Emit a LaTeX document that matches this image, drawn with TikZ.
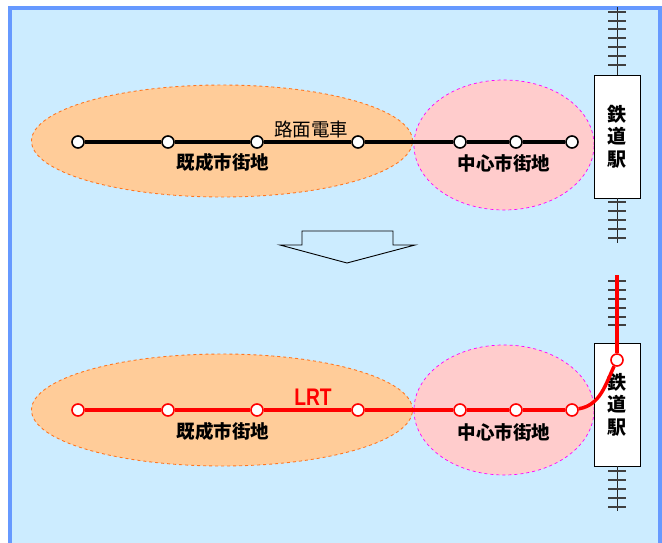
\documentclass[tikz,border=0pt]{standalone}
\usepackage{fontspec}
\setmainfont{Noto Sans CJK JP}
\newfontfamily\latinfont{Liberation Sans}
\usetikzlibrary{shapes.geometric}
\definecolor{skyfill}{HTML}{CCECFF}
\definecolor{skyline}{HTML}{6699FF}
\definecolor{oldfill}{HTML}{FFCC99}
\definecolor{oldline}{HTML}{FF7722}
\definecolor{cbdfill}{HTML}{FFCCCC}
\definecolor{cbdline}{HTML}{FF00FF}
\definecolor{lrtred}{HTML}{FF0000}
\tikzset{
  oldtown/.style={ellipse,draw=oldline,fill=oldfill,dashed,line width=0.9pt,
    minimum width=381pt,minimum height=112pt,inner sep=0pt},
  citycore/.style={ellipse,draw=cbdline,fill=cbdfill,dashed,line width=0.7pt,
    minimum width=180pt,minimum height=130pt,inner sep=0pt},
  stop/.style={circle,draw=black,fill=white,line width=1.6pt,minimum size=12pt,inner sep=0pt},
  lrtstop/.style={stop,draw=lrtred},
  tram/.style={line width=3.5pt,black},
  lrt/.style={line width=3.5pt,lrtred},
  areatext/.style={font=\fontsize{18.5}{20}\selectfont\bfseries},
  ekibox/.style={rectangle,draw=black,fill=white,line width=0.9pt,
    minimum width=46pt,minimum height=123pt,inner sep=0pt,align=center,
    font=\fontsize{19}{22.5}\selectfont\bfseries},
  rail/.style={line width=1pt,black!85},
  tie/.style={line width=1.5pt,black!75}
}
\begin{document}
\begin{tikzpicture}[x=1pt,y=-1pt]
  \useasboundingbox (0,0) rectangle (662,543);
  % background panel
  \draw[line width=4pt,draw=skyline,fill=skyfill] (10,8) rectangle (660,600);

  % before
  \node[oldtown] (old1) at (222,141) {};
  \node[citycore] (cbd1) at (504,145) {};
  \node[stop] (a1) at (78,142) {};
  \node[stop] (a2) at (168,142) {};
  \node[stop] (a3) at (257,142) {};
  \node[stop] (a4) at (358,142) {};
  \node[stop] (a5) at (460,142) {};
  \node[stop] (a6) at (516,142) {};
  \node[stop] (a7) at (572,142) {};
  \draw[tram] (a1) -- (a2) -- (a3) -- (a4) -- (a5) -- (a6) -- (a7);
  \node[areatext] (oldtxt1) at (223,162) {既成市街地};
  \node[areatext] (cbdtxt1) at (504,163) {中心市街地};
  \node[font=\fontsize{18.5}{20}\selectfont] (tramtxt) at (311,129) {路面電車};

  % station and track
  \node[ekibox] (eki1) at (617,136.5) {鉄\\道\\駅};
  \coordinate (rt1) at (617,7);
  \coordinate (rb1) at (617,243);
  \draw[rail] (rt1) -- (eki1.north);
  \draw[rail] (eki1.south) -- (rb1);
  \foreach \y in {12,21,29,38,47,56,65}
    \draw[tie] (608,\y) -- (626,\y);
  \foreach \y in {202,211,220,229,238}
    \draw[tie] (608,\y) -- (626,\y);

  % arrow
  \draw[line width=0.9pt] (302,231) -- (393,231) -- (393,245) -- (415,245)
    -- (347,263) -- (280,245) -- (302,245) -- cycle;

  % after
  \node[oldtown] (old2) at (222,410) {};
  \node[citycore] (cbd2) at (504,410) {};
  \node[ekibox] (eki2) at (617,404.5) {鉄\\道\\駅};
  \coordinate (rt2) at (617,275);
  \coordinate (rb2) at (617,511);
  \draw[rail] (rt2) -- (eki2.north);
  \draw[rail] (eki2.south) -- (rb2);
  \foreach \y in {281,290,299,308,317,325}
    \draw[tie] (608,\y) -- (626,\y);
  \foreach \y in {471,480,489,498,507}
    \draw[tie] (608,\y) -- (626,\y);
  \node[lrtstop] (b1) at (78,410) {};
  \node[lrtstop] (b2) at (168,410) {};
  \node[lrtstop] (b3) at (257,410) {};
  \node[lrtstop] (b4) at (358,410) {};
  \node[lrtstop] (b5) at (460,410) {};
  \node[lrtstop] (b6) at (516,410) {};
  \node[lrtstop] (b7) at (572,410) {};
  \node[lrtstop] (b8) at (617,360) {};
  \draw[lrt] (b1) -- (b2) -- (b3) -- (b4) -- (b5) -- (b6) -- (b7);
  \draw[lrt] (b7) to[out=10,in=-115] (b8);
  \draw[lrt] (b8) -- (rt2);
  \node[areatext] (oldtxt2) at (223,431) {既成市街地};
  \node[areatext] (cbdtxt2) at (504,432) {中心市街地};
  \node[font=\latinfont\bfseries\fontsize{24}{26}\selectfont,text=lrtred,xscale=0.8] (lrttxt) at (313,397) {LRT};
\end{tikzpicture}
\end{document}
